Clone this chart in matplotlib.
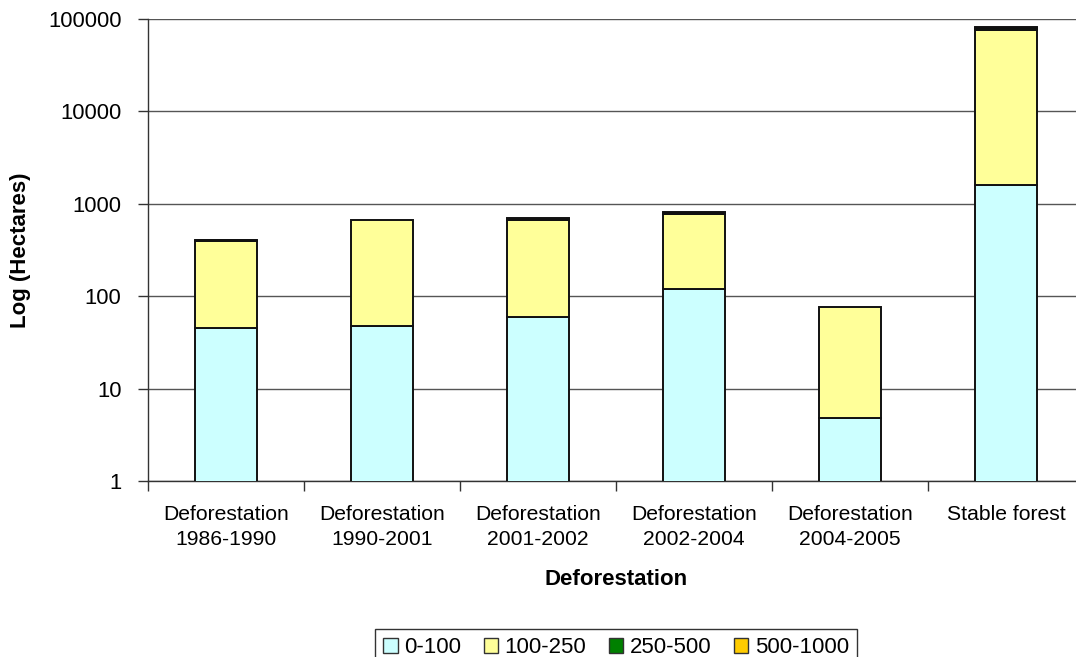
import matplotlib
matplotlib.use("Agg")
import matplotlib.pyplot as plt
from matplotlib.patches import Patch
from matplotlib.ticker import FixedLocator, NullLocator
import numpy as np

plt.rcParams['font.family'] = ['Liberation Sans', 'DejaVu Sans']

categories = ["Deforestation\n1986-1990", "Deforestation\n1990-2001", "Deforestation\n2001-2002",
              "Deforestation\n2002-2004", "Deforestation\n2004-2005", "Stable forest"]
series_names = ["0-100", "100-250", "250-500", "500-1000"]
s_0_100 = [45, 48, 59, 119, 4.8, 1600]
s_100_250 = [354, 620, 609, 651, 72, 74400]
s_250_500 = [6, 0, 18, 26, 0, 3000]
s_500_1000 = [3, 0, 12, 17, 0, 2200]
colors = ["#CCFFFF", "#FFFF99", "#008000", "#FFCC00"]
yticks = [1, 10, 100, 1000, 10000, 100000]

fig = plt.figure(figsize=(10.76, 6.57), dpi=100)
ax = fig.add_axes([148/1076, 1-481/657, 936/1076, 462/657])

x = np.arange(len(categories))
bottom = np.zeros(len(categories))
for i, (vals, col) in enumerate(zip([s_0_100, s_100_250, s_250_500, s_500_1000], colors)):
    v = np.array(vals, dtype=float)
    mask = v > 0
    ax.bar(x[mask], v[mask], bottom=(bottom[mask] if i > 0 else None),
           width=0.4, color=col, edgecolor="#111111", linewidth=1.4, zorder=3)
    bottom = bottom + v

ax.set_yscale("log")
ax.set_ylim(1, 100000)
ax.set_xlim(-0.5, len(categories) - 0.5)
ax.yaxis.set_major_locator(FixedLocator(yticks))
ax.yaxis.set_minor_locator(NullLocator())
ax.set_yticklabels([str(t) for t in yticks])
ax.set_xticks(x)
ax.set_xticklabels(categories)
ax.set_xticks(np.arange(len(categories) + 1) - 0.5, minor=True)
ax.tick_params(axis="x", which="major", length=0, pad=17, labelsize=15.2, colors="#000000")
ax.tick_params(axis="x", which="minor", length=7, width=1.0, direction="out", color="#333333")
ax.tick_params(axis="y", which="major", length=7, width=1.0, direction="out", color="#333333",
               labelsize=15.8, pad=12)
for lab in ax.get_xticklabels():
    lab.set_linespacing(1.45)

ax.grid(axis="y", which="major", color="#555555", linewidth=1.0, zorder=0)
ax.set_axisbelow(True)
for side in ["top", "right"]:
    ax.spines[side].set_visible(False)
for side in ["left", "bottom"]:
    ax.spines[side].set_color("#333333")
    ax.spines[side].set_linewidth(1.0)

ax.set_xlabel("Deforestation", fontsize=16, fontweight="bold", labelpad=14)
ax.set_ylabel("Log (Hectares)", fontsize=16, fontweight="bold", labelpad=12)

handles = [Patch(facecolor=c, edgecolor="#333333", linewidth=1.0) for c in colors]
leg = fig.legend(handles, series_names, loc="upper center", bbox_to_anchor=(616/1076, 1-618/657),
                 ncol=4, fontsize=16, frameon=True, fancybox=False, handlelength=0.65,
                 handleheight=0.65, handletextpad=0.3, columnspacing=1.0, borderpad=0.35,
                 edgecolor="#000000")
leg.get_frame().set_linewidth(1.0)

fig.savefig("out.png", dpi=100)
